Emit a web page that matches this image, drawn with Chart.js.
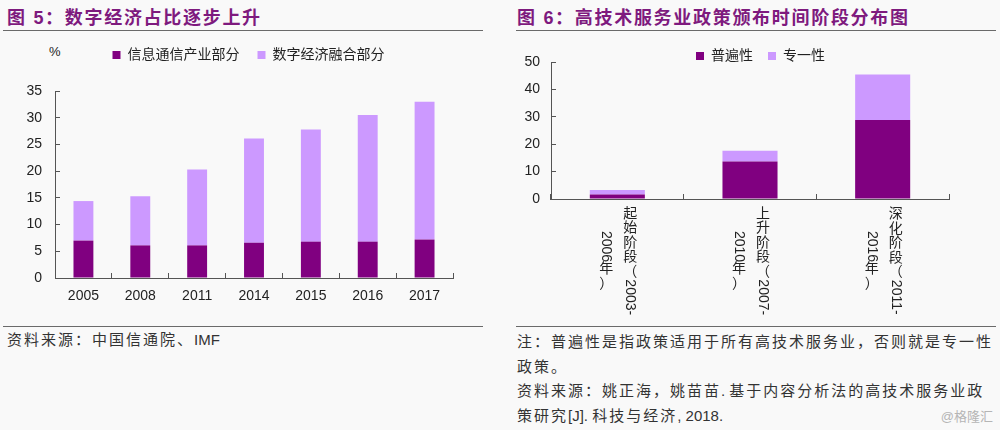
<!DOCTYPE html>
<html>
<head>
<meta charset="utf-8">
<script src="https://cdn.jsdelivr.net/npm/chart.js@4/dist/chart.umd.min.js"></script>
<style>
    body { margin: 0; width: 1000px; height: 430px; overflow: hidden; background: #f9f9f9; position: relative;
           font-family: "Liberation Sans", "Noto Sans CJK SC", sans-serif; }
    .title { position: absolute; top: 3px; font-family: "Liberation Sans", "Noto Sans CJK SC"; font-weight: 700;
             font-size: 18px; letter-spacing: 1.7px; color: #7e1a7e; white-space: nowrap; }
    .rule { position: absolute; height: 0; border-top: 1.5px solid #6a6a6a; }
    .note { position: absolute; font-size: 15px; letter-spacing: 2px; color: #333; white-space: nowrap; line-height: 24.5px; }
    .note .lat { letter-spacing: 0; }
    .box { position: absolute; }
</style>
</head>
<body>

<div class="title" style="left:7px;">图 5：数字经济占比逐步上升</div>
<div class="title" style="left:517px;">图 6：高技术服务业政策颁布时间阶段分布图</div>
<div class="rule" style="left:3px; top:30px; width:480px;"></div>
<div class="rule" style="left:516px; top:30px; width:480px;"></div>

<div style="position:absolute; left:49px; top:44px; font-size:13px; color:#222;">%</div>

<div class="box" style="left:0; top:30px;"><canvas id="chart-left" width="490" height="290"></canvas></div>
<div class="box" style="left:500px; top:34px;"><canvas id="chart-right" width="500" height="290"></canvas></div>

<div class="rule" style="left:3px; top:326px; width:480px;"></div>
<div class="rule" style="left:516px; top:326px; width:480px;"></div>

<div class="note" style="left:7px; top:328px;">资料来源：中国信通院、<span class="lat">IMF</span></div>
<div class="note" style="left:517px; top:330px;">注：普遍性是指政策适用于所有高技术服务业，否则就是专一性<br>政策。<br>资料来源：姚正海，姚苗苗<span class="lat">. </span>基于内容分析法的高技术服务业政<br>策研究<span class="lat">[J]. </span>科技与经济<span class="lat">, 2018.</span></div>
<div style="position:absolute; right:7px; top:406px; font-size:13px; color:#b5b5b5;">@格隆汇</div>

<script>
// 图5 数字经济占GDP比重（%）
var years = ['2005', '2008', '2011', '2014', '2015', '2016', '2017'];
var ictShare = [7.0, 6.1, 6.1, 6.6, 6.8, 6.8, 7.2];
var fusionShare = [7.4, 9.2, 14.2, 19.5, 21.0, 23.7, 25.8];

// 图6 政策数量
var stages = ['起始阶段（2003-2006年）', '上升阶段（2007-2010年）', '深化阶段（2011-2016年）'];
var stageLines = [
    ['起始阶段（2003-', '2006年）'],
    ['上升阶段（2007-', '2010年）'],
    ['深化阶段（2011-', '2016年）']
];
var generalPolicy = [1.6, 13.7, 28.8];
var specificPolicy = [1.7, 3.9, 16.6];

var darkPurple = '#800080';
var lightPurple = '#cc99ff';
var axisColor = '#555';
var textColor = '#222';
var fontFamily = '"Liberation Sans", "Noto Sans CJK SC", sans-serif';

// legend box gets a fixed height so the plot area lands where it should,
// and can be nudged sideways
var legendBox = {
    id: 'legendBox',
    beforeInit: function (chart, args, opts) {
        var fit = chart.legend.fit;
        chart.legend.fit = function () {
            fit.call(this);
            this.height = opts.height;
        };
    },
    afterLayout: function (chart, args, opts) {
        chart.legend.left += opts.shift || 0;
        chart.legend.right += opts.shift || 0;
    }
};

function isUpright(ch) {
    return ch.charCodeAt(0) > 0x2e80;
}

// stacked vertical text: CJK upright, latin runs turned 90deg
function drawVertical(ctx, text, x, cy, step) {
    var parts = [];
    var run = '';
    for (var i = 0; i < text.length; i++) {
        var ch = text[i];
        if (isUpright(ch)) {
            if (run) { parts.push({ t: run, rot: true, len: ctx.measureText(run).width }); run = ''; }
            parts.push({ t: ch, rot: false, len: step });
        } else {
            run += ch;
        }
    }
    if (run) parts.push({ t: run, rot: true, len: ctx.measureText(run).width });

    var total = 0;
    parts.forEach(function (p) { total += p.len; });
    var y = cy - total / 2;
    parts.forEach(function (p) {
        if (p.rot) {
            ctx.save();
            ctx.translate(x, y + p.len / 2);
            ctx.rotate(Math.PI / 2);
            ctx.fillText(p.t, 0, 0);
            ctx.restore();
        } else {
            ctx.fillText(p.t, x, y + p.len / 2);
        }
        y += p.len;
    });
}

var verticalLabels = {
    id: 'verticalLabels',
    afterDraw: function (chart, args, opts) {
        if (!opts.lines) return;
        var ctx = chart.ctx;
        var xs = chart.scales.x;
        ctx.save();
        ctx.font = '14px ' + fontFamily;
        ctx.fillStyle = textColor;
        ctx.textAlign = 'center';
        ctx.textBaseline = 'middle';
        opts.lines.forEach(function (cols, i) {
            var cx = xs.getPixelForTick(i);
            cols.forEach(function (text, j) {
                drawVertical(ctx, text, cx + 13 - j * 24, xs.top + 62, 14.5);
            });
        });
        ctx.restore();
    }
};

Chart.defaults.font.family = fontFamily;
Chart.defaults.color = textColor;
Chart.defaults.animation = false;

var configLeft = {
    type: 'bar',
    data: {
        labels: years,
        datasets: [{
                label: '信息通信产业部分',
                data: ictShare,
                backgroundColor: darkPurple
            }, {
                label: '数字经济融合部分',
                data: fusionShare,
                backgroundColor: lightPurple
            }]
    },
    options: {
        responsive: false,
        layout: { padding: { left: 4, right: 37, top: 0, bottom: 0 } },
        categoryPercentage: 1,
        barPercentage: 0.35,
        plugins: {
            legend: {
                position: 'top',
                labels: { boxWidth: 8, boxHeight: 8, padding: 18, font: { size: 14 }, color: textColor }
            },
            tooltip: { enabled: false },
            legendBox: { height: 61, shift: 20 }
        },
        scales: {
            x: {
                stacked: true,
                grid: { drawOnChartArea: false, tickLength: -5, color: axisColor },
                border: { color: axisColor },
                ticks: { padding: 15, font: { size: 14 }, color: textColor },
                afterFit: function (scale) { scale.height = 42; }
            },
            y: {
                stacked: true,
                min: 0,
                max: 35,
                grid: { drawOnChartArea: false, tickLength: -5, color: axisColor },
                border: { color: axisColor },
                ticks: { stepSize: 5, padding: 18, font: { size: 14 }, color: textColor },
                afterFit: function (scale) { scale.width = 51; }
            }
        }
    },
    plugins: [legendBox]
};

var configRight = {
    type: 'bar',
    data: {
        labels: stages,
        datasets: [{
                label: '普遍性',
                data: generalPolicy,
                backgroundColor: darkPurple
            }, {
                label: '专一性',
                data: specificPolicy,
                backgroundColor: lightPurple
            }]
    },
    options: {
        responsive: false,
        layout: { padding: { left: 18, right: 51, top: 0, bottom: 0 } },
        categoryPercentage: 1,
        barPercentage: 0.415,
        plugins: {
            legend: {
                position: 'top',
                labels: { boxWidth: 8, boxHeight: 8, padding: 15, font: { size: 14 }, color: textColor }
            },
            tooltip: { enabled: false },
            legendBox: { height: 28, shift: 27 },
            verticalLabels: { lines: stageLines }
        },
        scales: {
            x: {
                stacked: true,
                grid: { drawOnChartArea: false, tickLength: -5, color: axisColor },
                border: { color: axisColor },
                ticks: { display: false },
                afterFit: function (scale) { scale.height = 125; }
            },
            y: {
                stacked: true,
                min: 0,
                max: 50,
                grid: { drawOnChartArea: false, tickLength: -5, color: axisColor },
                border: { color: axisColor },
                ticks: { stepSize: 10, padding: 16, font: { size: 14 }, color: textColor },
                afterFit: function (scale) { scale.width = 33; }
            }
        }
    },
    plugins: [legendBox, verticalLabels]
};

var ctxLeft = document.getElementById('chart-left').getContext('2d');
var chartLeft = new Chart(ctxLeft, configLeft);

var ctxRight = document.getElementById('chart-right').getContext('2d');
var chartRight = new Chart(ctxRight, configRight);
</script>
</body>
</html>
